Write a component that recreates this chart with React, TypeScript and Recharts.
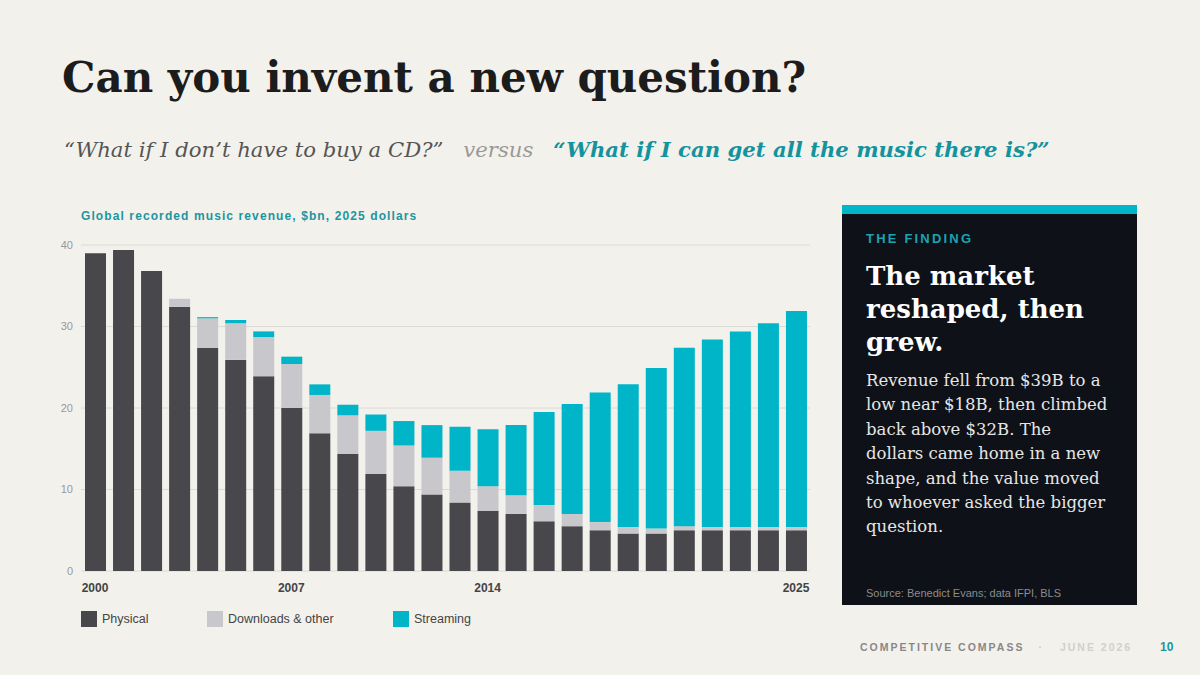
import React from 'react';
import { BarChart, Bar, XAxis, YAxis, CartesianGrid } from 'recharts';

const years = [2000, 2001, 2002, 2003, 2004, 2005, 2006, 2007, 2008, 2009, 2010, 2011, 2012, 2013, 2014, 2015, 2016, 2017, 2018, 2019, 2020, 2021, 2022, 2023, 2024, 2025];
const physical = [39, 39.4, 36.8, 32.4, 27.4, 25.9, 23.9, 20, 16.9, 14.4, 11.9, 10.4, 9.4, 8.4, 7.4, 7.0, 6.1, 5.5, 5.0, 4.6, 4.6, 5.0, 5.0, 5.0, 5.0, 5.0];
const downloads = [0, 0, 0, 1.0, 3.6, 4.5, 4.8, 5.4, 4.7, 4.7, 5.3, 5.0, 4.5, 3.9, 3.0, 2.3, 2.0, 1.5, 1.0, 0.8, 0.6, 0.5, 0.4, 0.4, 0.4, 0.4];
const streaming = [0, 0, 0, 0, 0.15, 0.4, 0.7, 0.9, 1.3, 1.3, 2.0, 3.0, 4.0, 5.4, 7.0, 8.6, 11.4, 13.5, 15.9, 17.5, 19.7, 21.9, 23.0, 24.0, 25.0, 26.5];
const labelYears = [2000, 2007, 2014, 2025];
const yTicks = [0, 10, 20, 30, 40];

const COLORS = { physical: '#48474b', downloads: '#c8c7cb', streaming: '#00b5c8' };
const SANS = '"Liberation Sans", Arial, sans-serif';
const SERIF = '"DejaVu Serif", serif';

const data = years.map((y, i) => ({
  year: y,
  physical: physical[i],
  downloads: downloads[i],
  streaming: streaming[i],
}));

const YearTick = (props: any) => {
  const { x, y, payload } = props;
  if (!labelYears.includes(payload.value)) return null;
  return (
    <text x={x} y={y} dy="0.71em" textAnchor="middle" fill="#444" fontSize={12} fontWeight={700} fontFamily={SANS}>
      {payload.value}
    </text>
  );
};

const legendItems = [
  { label: 'Physical', color: COLORS.physical, x: 81 },
  { label: 'Downloads & other', color: COLORS.downloads, x: 207 },
  { label: 'Streaming', color: COLORS.streaming, x: 393 },
];

const App: React.FC = () => {
  return (
    <div style={{ position: 'fixed', left: 0, top: 0, width: 1200, height: 675, background: '#f3f1ec', overflow: 'hidden' }}>
      {/* Title */}
      <div style={{ position: 'absolute', left: 62, top: 53, fontFamily: SERIF, fontWeight: 700, fontSize: 42, color: '#1c1c1c', whiteSpace: 'nowrap' }}>
        Can you invent a new question?
      </div>
      <div style={{ position: 'absolute', left: 64, top: 137, fontFamily: SERIF, fontStyle: 'italic', fontSize: 21.2, whiteSpace: 'nowrap' }}>
        <span style={{ color: '#555' }}>“What if I don’t have to buy a CD?”</span>
        <span style={{ color: '#999', marginLeft: 20 }}>versus</span>
        <span style={{ color: '#13939d', fontWeight: 700, marginLeft: 20 }}>“What if I can get all the music there is?”</span>
      </div>

      {/* Chart */}
      <div style={{ position: 'absolute', left: 81, top: 209, fontFamily: SANS, fontWeight: 700, fontSize: 12, letterSpacing: 1.1, color: '#1a96a0', whiteSpace: 'nowrap' }}>
        Global recorded music revenue, $bn, 2025 dollars
      </div>
      <div style={{ position: 'absolute', left: 0, top: 200 }}>
        <BarChart width={830} height={410} data={data} margin={{ top: 45, right: 20, bottom: 9, left: 0 }} barSize={21}>
          <CartesianGrid vertical={false} stroke="#dcdad4" />
          <XAxis dataKey="year" interval={0} axisLine={false} tickLine={false} tickMargin={6} height={30} tick={<YearTick />} />
          <YAxis domain={[0, 40]} ticks={yTicks} width={81} axisLine={false} tickLine={false} tick={{ fill: '#999', fontSize: 11, fontFamily: SANS }} />
          <Bar dataKey="physical" stackId="a" fill={COLORS.physical} isAnimationActive={false} />
          <Bar dataKey="downloads" stackId="a" fill={COLORS.downloads} isAnimationActive={false} />
          <Bar dataKey="streaming" stackId="a" fill={COLORS.streaming} isAnimationActive={false} />
        </BarChart>
      </div>

      {/* Legend */}
      {legendItems.map((item) => (
        <div key={item.label} style={{ position: 'absolute', left: item.x, top: 611, display: 'flex', alignItems: 'center', whiteSpace: 'nowrap' }}>
          <div style={{ width: 16, height: 16, background: item.color }} />
          <span style={{ marginLeft: 5, fontFamily: SANS, fontSize: 12.5, color: '#444' }}>{item.label}</span>
        </div>
      ))}

      {/* Finding panel */}
      <div style={{ position: 'absolute', left: 842, top: 205, width: 295, height: 400, background: '#0e1117', borderTop: '9px solid #00b5c8', boxSizing: 'border-box' }}>
        <div style={{ position: 'absolute', left: 24, top: 17, fontFamily: SANS, fontWeight: 700, fontSize: 13, letterSpacing: 2.2, color: '#1aa3b0' }}>
          THE FINDING
        </div>
        <div style={{ position: 'absolute', left: 24, top: 46, width: 250, fontFamily: SERIF, fontWeight: 700, fontSize: 26, lineHeight: '33px', color: '#fff' }}>
          The market reshaped, then grew.
        </div>
        <div style={{ position: 'absolute', left: 24, top: 155, width: 244, fontFamily: SERIF, fontSize: 16.5, lineHeight: '24.4px', color: '#e6e6e6' }}>
          Revenue fell from $39B to a low near $18B, then climbed back above $32B. The dollars came home in a new shape, and the value moved to whoever asked the bigger question.
        </div>
        <div style={{ position: 'absolute', left: 24, top: 373, fontFamily: SANS, fontSize: 11, color: '#8c8c8c', whiteSpace: 'nowrap' }}>
          Source: Benedict Evans; data IFPI, BLS
        </div>
      </div>

      {/* Footer */}
      <div style={{ position: 'absolute', left: 860, top: 641, fontFamily: SANS, fontSize: 10.5, fontWeight: 700, letterSpacing: 2, whiteSpace: 'nowrap' }}>
        <span style={{ color: '#888' }}>COMPETITIVE COMPASS</span>
        <span style={{ color: '#ccc', margin: '0 16px 0 14px' }}>·</span>
        <span style={{ color: '#d2d0cb' }}>JUNE 2026</span>
      </div>
      <div style={{ position: 'absolute', left: 1160, top: 640, fontFamily: SANS, fontSize: 12, fontWeight: 700, color: '#1a96a0' }}>10</div>
    </div>
  );
};

export default App;
